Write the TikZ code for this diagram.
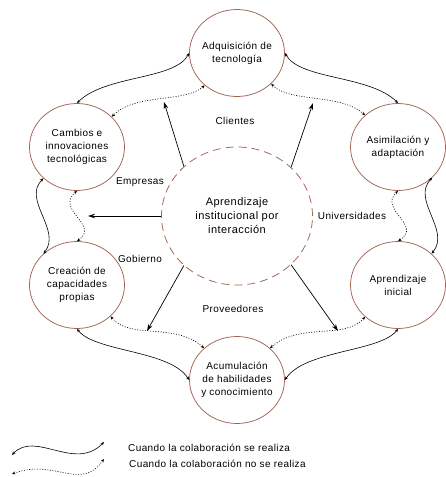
\documentclass[tikz,border=0pt]{standalone}
\usepackage{fontspec}
\setmainfont{Liberation Sans}[LetterSpace=4]
\usepackage{tikz}
\usetikzlibrary{shapes.geometric,arrows.meta}

\definecolor{borde}{RGB}{160,98,82}
\tikzset{
	etapa/.style={draw=borde,line width=0.75pt,ellipse,minimum width=95pt,minimum height=87pt,inner sep=0pt},
	etiq/.style={align=center,font=\fontsize{10}{13}\selectfont,inner sep=0pt},
	enlace/.style={line width=0.6pt,{Stealth[length=3.5pt,width=3pt]}-{Stealth[length=3.5pt,width=3pt]}},
	sinenlace/.style={enlace,dash pattern=on 1pt off 1.6pt},
	flecha/.style={line width=0.7pt,-{Stealth[length=7pt,width=4.5pt]}},
}

\begin{document}
\begin{tikzpicture}[x=1pt,y=-1pt]
	\useasboundingbox (0,0) rectangle (445,477);
	
	%stages
	\node[etapa,label={[etiq]center:Adquisición de\\tecnología}] (adq) at (237,53) {};
	\node[etapa,label={[etiq]center:Cambios e\\innovaciones\\tecnológicas}] (camb) at (77,147) {};
	\node[etapa,label={[etiq]center:Asimilación y\\adaptación}] (asim) at (398,147) {};
	\node[etapa,label={[etiq]center:Creación de\\capacidades\\propias}] (crea) at (77,285) {};
	\node[etapa,label={[etiq]center:Aprendizaje\\inicial}] (apini) at (398,285) {};
	\node[etapa,label={[etiq]center:Acumulación\\de habilidades\\y conocimiento}] (acum) at (237,380) {};
	\node[draw=borde,line width=0.75pt,dash pattern=on 8pt off 5pt,ellipse,minimum width=151pt,minimum height=138pt,inner sep=0pt,
		label={[etiq,font=\fontsize{11}{14}\selectfont]center:Aprendizaje\\institucional por\\interacción}] (centro) at (237,216) {};
	
	%actors
	\node[etiq] (cli)  at (235,121) {Clientes};
	\node[etiq] (emp)  at (140,182) {Empresas};
	\node[etiq] (uni)  at (352,216) {Universidades};
	\node[etiq] (gob)  at (140,259) {Gobierno};
	\node[etiq] (prov) at (233,309) {Proveedores};
	
	%arrows from the centre
	\coordinate (e1) at (164,102);
	\coordinate (e2) at (313,103);
	\coordinate (e3) at (88,216);
	\coordinate (e4) at (147,331);
	\coordinate (e5) at (338,331);
	\draw[flecha] (centro.137)--(e1);
	\draw[flecha] (centro.42)--(e2);
	\draw[flecha] (centro.180)--(e3);
	\draw[flecha] (centro.223)--(e4);
	\draw[flecha] (centro.318)--(e5);
	
	%collaboration done
	\draw[enlace] (adq.180) .. controls (175,80) and (105,75) .. (camb.90);
	\draw[enlace] (adq.0) .. controls (300,80) and (370,75) .. (asim.90);
	\draw[enlace] (camb.223) .. controls (22,200) and (62,230) .. (crea.137);
	\draw[enlace] (asim.318) .. controls (411,200) and (451,230) .. (apini.43);
	\draw[enlace] (crea.270) .. controls (95,352) and (170,350) .. (acum.180);
	\draw[enlace] (apini.270) .. controls (380,352) and (305,350) .. (acum.0);
	
	%collaboration not done
	\draw[sinenlace] (adq.225) .. controls (185,103) and (135,93) .. (camb.41);
	\draw[sinenlace] (adq.318) .. controls (290,103) and (340,93) .. (asim.136);
	\draw[sinenlace] (camb.270) .. controls (55,210) and (100,225) .. (crea.90);
	\draw[sinenlace] (asim.270) .. controls (378,210) and (423,225) .. (apini.90);
	\draw[sinenlace] (crea.317) .. controls (130,340) and (175,322) .. (acum.136);
	\draw[sinenlace] (apini.224) .. controls (345,340) and (300,322) .. (acum.44);
	
	%legend
	\coordinate (ls1) at (12,455);
	\coordinate (ls2) at (104,442);
	\coordinate (ld1) at (12,474);
	\coordinate (ld2) at (104,459);
	\draw[enlace] (ls1) .. controls (35,430) and (75,472) .. (ls2);
	\draw[sinenlace] (ld1) .. controls (55,458) and (80,492) .. (ld2);
	\node[etiq,anchor=west] (lt1) at (128,448) {Cuando la colaboración se realiza};
	\node[etiq,anchor=west] (lt2) at (129,464) {Cuando la colaboración no se realiza};
\end{tikzpicture}
\end{document}
